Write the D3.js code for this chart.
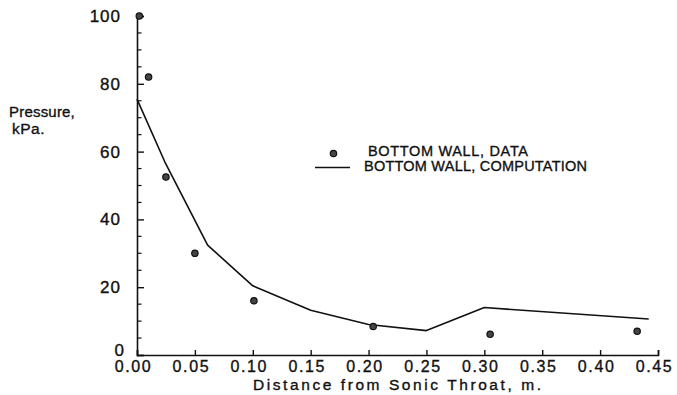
<!DOCTYPE html>
<html>
<head>
<meta charset="utf-8">
<script src="https://cdn.jsdelivr.net/npm/d3@7"></script>
<style>
  body { margin: 0; background: #fff; }
  svg text { font-family: "Liberation Sans", Arial, sans-serif; fill: #111; stroke: #111; stroke-width: 0.35px; }
</style>
</head>
<body>
<svg id="chart" width="677" height="395"></svg>
<script>
// Measured wall pressure along the nozzle (dots)
const dataX = [0.002, 0.010, 0.025, 0.050, 0.101, 0.204, 0.305, 0.432];
const dataP = [100, 82, 52.5, 30, 16, 8.4, 6.1, 7.0];

// Computed wall pressure (solid line)
const compX = [0.000, 0.024, 0.061, 0.100, 0.150, 0.200, 0.250, 0.300, 0.442];
const compP = [75.5, 57, 32.4, 20.4, 13.2, 9.0, 7.2, 14.0, 10.6];

// Axis ticks
const xTicks = [0.00, 0.05, 0.10, 0.15, 0.20, 0.25, 0.30, 0.35, 0.40, 0.45];
const yTicks = [0, 20, 40, 60, 80, 100];
const yMinorTicks = [5, 10, 15, 25, 30, 35, 45, 50, 55, 65, 70, 75, 85, 90, 95];

const legendLabels = ["BOTTOM  WALL,  DATA", "BOTTOM  WALL,  COMPUTATION"];
const yTitle = ["Pressure,", "kPa."];
const xTitle = "Distance from Sonic Throat, m.";

const svg = d3.select("#chart");
const ink = "#111";

const x = d3.scaleLinear().domain([0, 0.45]).range([137, 658]);
const y = d3.scaleLinear().domain([0, 100]).range([355, 16]);

// Y axis: major ticks every 20, minor every 5, drawn inward
const yAxis = svg.append("g")
  .attr("transform", `translate(${x(0)},0)`)
  .call(d3.axisLeft(y).tickValues(yTicks).tickSize(-7).tickPadding(16).tickFormat(d3.format("d")));
yAxis.select(".domain").attr("stroke", ink).attr("stroke-width", 1.6);
yAxis.selectAll(".tick line").attr("stroke", ink).attr("stroke-width", 1.4);
yAxis.selectAll(".tick text")
  .attr("font-size", 17).attr("letter-spacing", 1).attr("fill", ink)
  .attr("font-family", "Liberation Sans, Arial, sans-serif")
  .attr("dx", d => d === 0 ? 4 : 0)
  .attr("dy", d => d === 0 ? "0.02em" : "0.32em");

svg.append("g").selectAll("line").data(yMinorTicks).join("line")
  .attr("x1", x(0)).attr("x2", x(0) + 4.5)
  .attr("y1", d => y(d)).attr("y2", d => y(d))
  .attr("stroke", ink).attr("stroke-width", 1.2);

// X axis: ticks every 0.05, drawn upward
const xAxis = svg.append("g")
  .attr("transform", `translate(0,${y(0)})`)
  .call(d3.axisBottom(x).tickValues(xTicks).tickSize(-5).tickPadding(7).tickFormat(d3.format(".2f")));
xAxis.select(".domain").attr("stroke", ink).attr("stroke-width", 1.6);
xAxis.selectAll(".tick line").attr("stroke", ink).attr("stroke-width", 1.4);
xAxis.selectAll(".tick text")
  .attr("font-size", 16).attr("letter-spacing", 1.6).attr("fill", ink)
  .attr("font-family", "Liberation Sans, Arial, sans-serif")
  .attr("dx", -4).attr("dy", "0.62em");

// Computed pressure line
const line = d3.line().x((d, i) => x(compX[i])).y((d, i) => y(compP[i]));
svg.append("path")
  .datum(compP)
  .attr("d", line)
  .attr("fill", "none")
  .attr("stroke", ink)
  .attr("stroke-width", 1.6)
  .attr("stroke-linejoin", "round");

// Measured points
svg.append("g").selectAll("circle").data(dataP).join("circle")
  .attr("cx", (d, i) => x(dataX[i]))
  .attr("cy", d => y(d))
  .attr("r", 3.2)
  .attr("fill", "#444")
  .attr("stroke", ink)
  .attr("stroke-width", 1.2);

// Axis titles
svg.append("text").attr("x", 9).attr("y", 117).attr("font-size", 15)
  .attr("letter-spacing", 0.2).text(yTitle[0]);
svg.append("text").attr("x", 12).attr("y", 134).attr("font-size", 15.5)
  .attr("letter-spacing", 0.5).text(yTitle[1]);
svg.append("text")
  .attr("x", 253).attr("y", 390)
  .attr("font-size", 15.5)
  .attr("textLength", 288).attr("lengthAdjust", "spacing")
  .text(xTitle);

// Legend
const lg = svg.append("g");
lg.append("circle").attr("cx", 333.5).attr("cy", 153.5).attr("r", 3.2)
  .attr("fill", "#444").attr("stroke", ink).attr("stroke-width", 1.2);
lg.append("text").attr("x", 368).attr("y", 156).attr("font-size", 14.5)
  .attr("textLength", 160).attr("lengthAdjust", "spacing").text(legendLabels[0]);
lg.append("line").attr("x1", 315).attr("x2", 350).attr("y1", 167.5).attr("y2", 167.5)
  .attr("stroke", ink).attr("stroke-width", 1.4);
lg.append("text").attr("x", 364).attr("y", 170.5).attr("font-size", 14.5)
  .attr("textLength", 223).attr("lengthAdjust", "spacing").text(legendLabels[1]);
</script>
</body>
</html>
